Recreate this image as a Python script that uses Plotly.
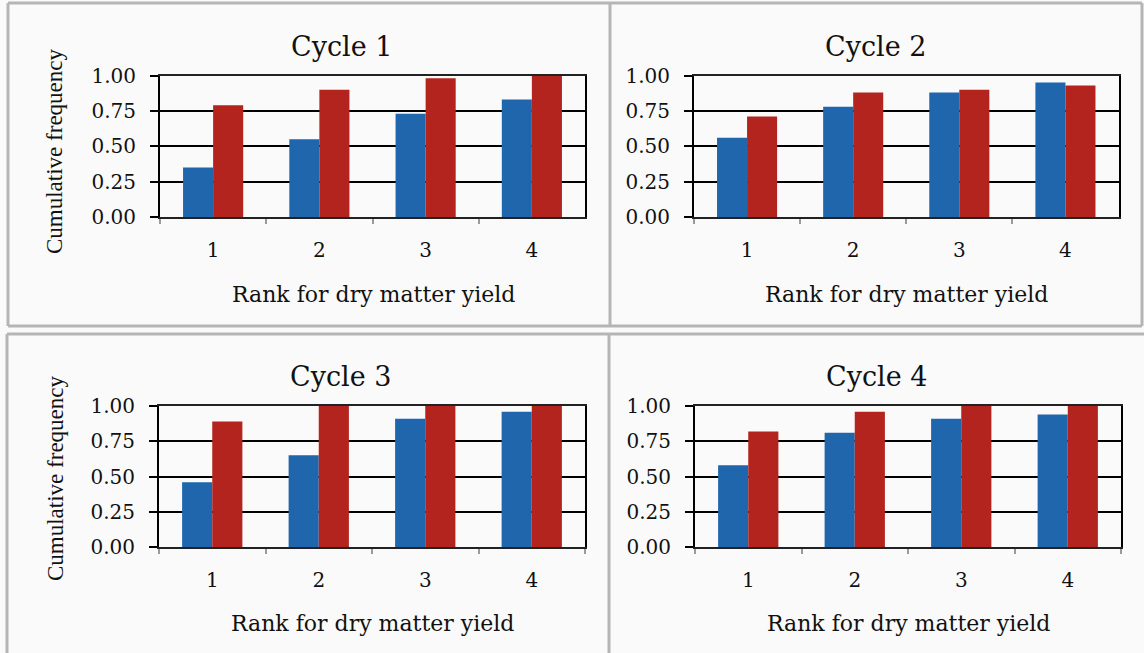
import plotly.graph_objects as go

# Cumulative frequency of ranks for dry matter yield, per selection cycle
ranks = ["1", "2", "3", "4"]
cycle_titles = ["Cycle 1", "Cycle 2", "Cycle 3", "Cycle 4"]

cycle1_blue = [0.35, 0.55, 0.73, 0.83]
cycle1_red = [0.79, 0.90, 0.98, 1.00]
cycle2_blue = [0.56, 0.78, 0.88, 0.95]
cycle2_red = [0.71, 0.88, 0.90, 0.93]
cycle3_blue = [0.46, 0.65, 0.91, 0.96]
cycle3_red = [0.89, 1.00, 1.00, 1.00]
cycle4_blue = [0.58, 0.81, 0.91, 0.94]
cycle4_red = [0.82, 0.96, 1.00, 1.00]

y_ticks = [0, 0.25, 0.5, 0.75, 1.0]
x_title = "Rank for dry matter yield"
y_title = "Cumulative frequency"

W, H = 1144, 653
BLUE = "#1f66ac"
RED = "#b3241e"
FRAME = "#b5b5b5"
SERIF_H = "DejaVu Serif"
SERIF_V = "Liberation Serif"


def px_x(v):
    return v / W


def px_y(v):
    return 1 - v / H


# plot-area pixel boxes: (left, right, top, bottom)
boxes = [
    (160, 585, 75.5, 217),
    (694, 1118.5, 75.5, 217),
    (159, 585, 406, 547),
    (695, 1121, 406, 547),
]
series = [
    (cycle1_blue, cycle1_red),
    (cycle2_blue, cycle2_red),
    (cycle3_blue, cycle3_red),
    (cycle4_blue, cycle4_red),
]

fig = go.Figure()
layout = dict(
    width=W,
    height=H,
    autosize=False,
    margin=dict(l=0, r=0, t=0, b=0, pad=0),
    paper_bgcolor="#fafafa",
    plot_bgcolor="#fafafa",
    showlegend=False,
    barmode="group",
    bargap=0.434,
    bargroupgap=0,
)

for i, ((l, r, t, b), (blue, red)) in enumerate(zip(boxes, series)):
    n = "" if i == 0 else str(i + 1)
    xa, ya = "x" + n, "y" + n
    fig.add_trace(go.Bar(x=ranks, y=blue, marker=dict(color=BLUE, line=dict(width=0)),
                         xaxis=xa, yaxis=ya, name="blue"))
    fig.add_trace(go.Bar(x=ranks, y=red, marker=dict(color=RED, line=dict(width=0)),
                         xaxis=xa, yaxis=ya, name="red"))
    layout["xaxis" + n] = dict(
        domain=[px_x(l), px_x(r)],
        anchor=ya,
        automargin=False,
        type="category",
        tickson="boundaries",
        ticks="outside",
        ticklen=5,
        tickwidth=2,
        tickcolor="#9a9a9a",
        showgrid=False,
        showline=True,
        linecolor="#222222",
        linewidth=2,
        mirror=True,
        ticklabelstandoff=14,
        tickfont=dict(family=SERIF_H, size=20, color="#111111"),
        fixedrange=True,
    )
    layout["yaxis" + n] = dict(
        domain=[px_y(b), px_y(t)],
        anchor=xa,
        automargin=False,
        range=[0, 1],
        tickvals=y_ticks,
        tickformat=".2f",
        ticks="outside",
        ticklen=8,
        tickwidth=2,
        tickcolor="#000000",
        showgrid=True,
        gridcolor="#000000",
        gridwidth=2,
        zeroline=False,
        showline=True,
        linecolor="#000000",
        linewidth=2,
        mirror=True,
        ticklabelstandoff=10,
        tickfont=dict(family=SERIF_H, size=20, color="#111111"),
        fixedrange=True,
    )

fig.update_layout(**layout)

# Panel titles, axis titles
title_pos = [(341, 46), (875, 46), (340, 376), (876, 376)]
xtitle_pos = [(373, 294), (906, 294), (372, 623), (908, 623)]
ytitle_pos = [(55, 151), (55, 478)]

annotations = []
for text, (x, y) in zip(cycle_titles, title_pos):
    annotations.append(dict(text=text, x=px_x(x), y=px_y(y), xref="paper", yref="paper",
                            showarrow=False, xanchor="center", yanchor="middle",
                            font=dict(family=SERIF_H, size=27, color="#111111")))
for x, y in xtitle_pos:
    annotations.append(dict(text=x_title, x=px_x(x), y=px_y(y), xref="paper", yref="paper",
                            showarrow=False, xanchor="center", yanchor="middle",
                            font=dict(family=SERIF_H, size=22, color="#111111")))
for x, y in ytitle_pos:
    annotations.append(dict(text=y_title, x=px_x(x), y=px_y(y), xref="paper", yref="paper",
                            showarrow=False, xanchor="center", yanchor="middle", textangle=-90,
                            font=dict(family=SERIF_V, size=23, color="#111111")))

# Grey panel frames
frame = dict(type="line", xref="paper", yref="paper", line=dict(color=FRAME, width=3))
segments = [
    # top-left panel
    (8, 3, 610, 3), (8, 3, 8, 326), (8, 326, 610, 326),
    # top-right panel
    (610, 3, 1142, 3), (610, 3, 610, 326), (1142, 3, 1142, 326), (610, 326, 1142, 326),
    # bottom panels
    (7, 334, 1144, 334), (7, 334, 7, 653), (609, 334, 609, 653),
]
shapes = []
for x0, y0, x1, y1 in segments:
    s = dict(frame)
    s.update(x0=px_x(x0), y0=px_y(y0), x1=px_x(x1), y1=px_y(y1))
    shapes.append(s)

fig.update_layout(annotations=annotations, shapes=shapes)
fig.write_html("out.html")
